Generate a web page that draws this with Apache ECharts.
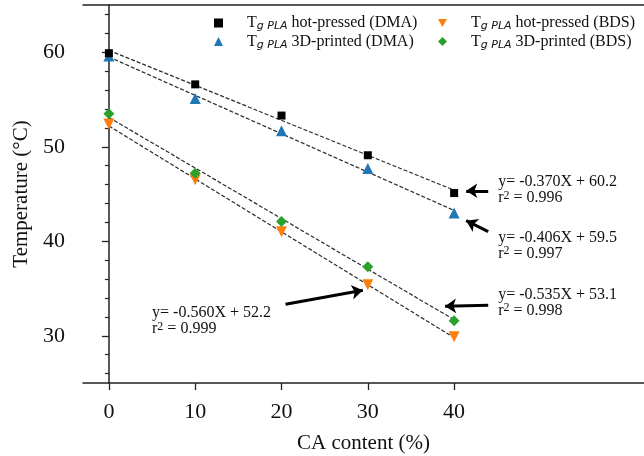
<!DOCTYPE html>
<html><head><meta charset="utf-8">
<script src="https://cdn.jsdelivr.net/npm/echarts@6/dist/echarts.min.js"></script>
<style>html,body{margin:0;padding:0;background:#fff}#c{width:644px;height:456px}</style>
</head><body><div id="c"></div>
<script>
const caContent = [0, 10, 20, 30, 40];
const tgHotPressedDMA = [59.9, 56.6, 53.3, 49.1, 45.1];
const tg3DPrintedDMA = [59.6, 55.1, 51.7, 47.7, 43.0];
const tgHotPressedBDS = [52.4, 46.5, 41.0, 35.4, 29.9];
const tg3DPrintedBDS = [53.5, 47.2, 42.1, 37.3, 31.6];

const fitX = [0, 40];
const fitHotPressedDMA = [60.2, 45.4];
const fit3DPrintedDMA = [59.5, 43.26];
const fitHotPressedBDS = [52.2, 29.8];
const fit3DPrintedBDS = [53.1, 31.7];

const xTicks = [0, 10, 20, 30, 40];
const yTicks = [30, 40, 50, 60];
const yMinorTicks = [26, 28, 32, 34, 36, 38, 42, 44, 46, 48, 52, 54, 56, 58, 62, 64];

const equations = ['y= -0.370X + 60.2', 'y= -0.406X + 59.5', 'y= -0.535X + 53.1', 'y= -0.560X + 52.2'];
const r2Values = ['0.996', '0.997', '0.998', '0.999'];
// annotation text anchors (data coords: left, top)
const eqAnchors = [[45.1, 47.07], [45.1, 41.18], [45.1, 35.18], [5.0, 33.18]];
// arrows: [from, to] in data coords
const arrows = [
  [[43.95, 45.34], [41.4, 45.34]],
  [[43.95, 41.02], [41.4, 42.18]],
  [[43.95, 33.23], [38.95, 33.13]],
  [[20.47, 33.34], [29.42, 34.82]]
];

const legendText = {
  hpDMA: ' hot-pressed (DMA)', p3dDMA: ' 3D-printed (DMA)',
  hpBDS: ' hot-pressed (BDS)', p3dBDS: ' 3D-printed (BDS)'
};

const serif = 'Liberation Serif';
const zip = (xs, ys) => xs.map((x, i) => [x, ys[i]]);

const chart = echarts.init(document.getElementById('c'), null, {renderer: 'canvas'});

const fitLine = (data) => ({
  type: 'line', data: zip(fitX, data), symbol: 'none', silent: true, z: 1,
  lineStyle: {color: '#2a2a2a', width: 1.2, type: [4, 2]}
});

const legendBase = {
  orient: 'vertical', top: 10, itemWidth: 9, itemHeight: 9, itemGap: 1.5,
  formatter: n => '{t|T}{s|g PLA}{u|' + legendText[n] + '}',
  textStyle: {
    rich: {
      t: {fontFamily: serif, fontSize: 16, color: '#111', lineHeight: 18, padding: [0, 0, 0, 19]},
      s: {fontFamily: 'DejaVu Sans', fontStyle: 'italic', fontSize: 11, color: '#111', lineHeight: 12, verticalAlign: 'bottom'},
      u: {fontFamily: serif, fontSize: 16, color: '#111', lineHeight: 18}
    }
  }
};

const option = {
  animation: false,
  backgroundColor: '#fff',
  grid: {left: 83, top: 5, right: 0, bottom: 73, containLabel: false, outerBoundsMode: 'none'},
  legend: [
    Object.assign({}, legendBase, {left: 209, data: [{name: 'hpDMA', icon: 'rect'}, {name: 'p3dDMA', icon: 'triangle'}]}),
    Object.assign({}, legendBase, {left: 433, data: [{name: 'hpBDS', icon: 'path://M0,0L10,0L5,9Z'}, {name: 'p3dBDS', icon: 'diamond'}]})
  ],
  xAxis: [{
    type: 'value', min: -3, max: 62, position: 'bottom',
    name: 'CA content (%)', nameLocation: 'middle', nameGap: 50,
    nameTextStyle: {fontFamily: serif, fontSize: 21, color: '#111'},
    axisLine: {lineStyle: {color: '#222', width: 1.5}},
    axisTick: {show: true, length: 7, customValues: xTicks, lineStyle: {color: '#222', width: 1.3}},
    axisLabel: {customValues: xTicks, fontFamily: serif, fontSize: 22, color: '#111', margin: 18},
    splitLine: {show: false}
  }, {
    type: 'value', min: -3, max: 62, position: 'top',
    axisLine: {show: true, lineStyle: {color: '#222', width: 1.5}},
    axisTick: {show: false}, axisLabel: {show: false}, splitLine: {show: false}
  }],
  yAxis: [{
    type: 'value', min: 25, max: 65, position: 'left',
    name: 'Temperature (°C)', nameLocation: 'middle', nameGap: 51, nameRotate: 90,
    nameTextStyle: {fontFamily: serif, fontSize: 21, color: '#111'},
    axisLine: {show: true, lineStyle: {color: '#222', width: 1.5}},
    axisTick: {show: true, length: 7, customValues: yTicks, lineStyle: {color: '#222', width: 1.3}},
    axisLabel: {customValues: yTicks, fontFamily: serif, fontSize: 22, color: '#111', margin: 18},
    splitLine: {show: false}
  }, {
    type: 'value', min: 25, max: 65, position: 'left', offset: 0,
    axisLine: {show: false},
    axisTick: {show: true, length: 4, customValues: yMinorTicks, lineStyle: {color: '#222', width: 1.2}},
    axisLabel: {show: false, customValues: yMinorTicks}, splitLine: {show: false}
  }],
  series: [
    fitLine(fitHotPressedDMA), fitLine(fit3DPrintedDMA), fitLine(fitHotPressedBDS), fitLine(fit3DPrintedBDS),
    {name: 'hpDMA', type: 'scatter', data: zip(caContent, tgHotPressedDMA), symbol: 'rect', symbolSize: 8,
     itemStyle: {color: '#000', opacity: 1}, z: 5},
    {name: 'p3dDMA', type: 'scatter', data: zip(caContent, tg3DPrintedDMA), symbol: 'triangle', symbolSize: 11,
     itemStyle: {color: '#1f77b4', opacity: 1}, z: 4},
    {name: 'hpBDS', type: 'scatter', data: zip(caContent, tgHotPressedBDS), symbol: 'triangle', symbolRotate: 180, symbolSize: 11,
     itemStyle: {color: '#ff7f0e', opacity: 1}, z: 4},
    {name: 'p3dBDS', type: 'scatter', data: zip(caContent, tg3DPrintedBDS), symbol: 'diamond', symbolSize: 11,
     itemStyle: {color: '#2ca02c', opacity: 1}, z: 4},
    {type: 'lines', coordinateSystem: 'cartesian2d', silent: true, z: 6,
     symbol: ['none', 'arrow'], symbolSize: [0, 11],
     lineStyle: {color: '#000', width: 3, opacity: 1, curveness: 0},
     data: arrows.map(a => ({coords: a}))}
  ]
};
chart.setOption(option);

const graphics = equations.map((eq, i) => {
  const p = chart.convertToPixel({gridIndex: 0}, eqAnchors[i]);
  return {
    type: 'text', x: p[0], y: p[1], z: 10,
    style: {
      text: '{a|' + eq + '}\n{c|r}{b|2}{c| = ' + r2Values[i] + '}',
      align: 'left', verticalAlign: 'top',
      rich: {
        a: {fontFamily: serif, fontSize: 16, lineHeight: 15, fill: '#111'},
        c: {fontFamily: serif, fontSize: 16, lineHeight: 17, fill: '#111'},
        b: {fontFamily: serif, fontSize: 12, lineHeight: 11, fill: '#111', verticalAlign: 'top'}
      }
    }
  };
});
chart.setOption({graphic: graphics});
</script>
</body></html>
